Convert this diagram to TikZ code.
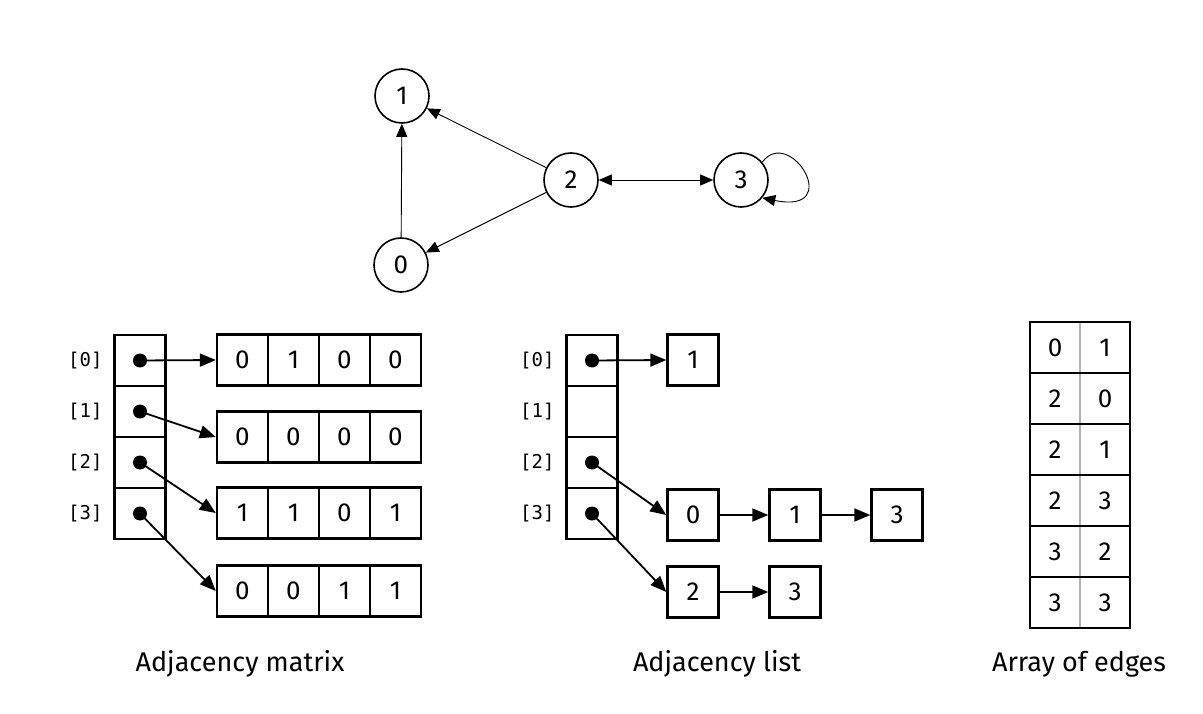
\documentclass[tikz,border=0pt]{standalone}
\usepackage{fontspec}
\setmainfont{Fira Sans}
\newfontfamily\monof{DejaVu Sans Mono}
\usetikzlibrary{arrows.meta}
\begin{document}
\begin{tikzpicture}[x=1pt,y=-1pt,
  vtx/.style={circle,draw,line width=1.6pt,minimum size=54pt,inner sep=0pt,font=\fontsize{26}{26}\selectfont},
  gedge/.style={line width=0.9pt,-{Triangle[length=13pt,width=11pt]}},
  cell/.style={draw,line width=2.4pt,minimum width=51pt,minimum height=51pt,inner sep=0pt,font=\fontsize{26}{26}\selectfont},
  ecell/.style={minimum width=50pt,minimum height=51pt,inner sep=0pt,font=\fontsize{26}{26}\selectfont},
  idx/.style={font=\monof\fontsize{19}{19}\selectfont},
  dot/.style={circle,fill,inner sep=0pt,minimum size=14pt},
  ptr/.style={line width=1.8pt,-{Triangle[length=16pt,width=13pt]}},
  captxt/.style={font=\fontsize{27}{27}\selectfont}]
\useasboundingbox (0,0) rectangle (1203,714);
% graph
\node[vtx] (n1) at (402,96) {1};
\node[vtx] (n2) at (571,180) {2};
\node[vtx] (n3) at (741,180) {3};
\node[vtx] (n0) at (401,265) {0};
\draw[gedge] (n0) -- (n1);
\draw[gedge] (n2) -- (n1);
\draw[gedge] (n2) -- (n0);
\draw[line width=0.9pt,{Triangle[length=13pt,width=11pt]}-{Triangle[length=13pt,width=11pt]}] (n2) -- (n3);
\draw[gedge] (n3.40) .. controls (790,125) and (845,215) .. (n3.-40);
% adjacency matrix
\foreach \r in {0,1,2,3}{
  \node[cell] (m\r) at (140,{360.5+51*\r}) {};
  \node[idx,anchor=east] at (106,{360.5+51*\r}) {[\r]};
  \node[dot] (md\r) at (140,{360.5+51*\r}) {};
}
\foreach \r/\y/\a/\b/\c/\d in {0/360/0/1/0/0,1/437/0/0/0/0,2/513/1/1/0/1,3/591/0/0/1/1}{
  \node[cell] (a\r0) at (242.5,\y) {\a};
  \node[cell] (a\r1) at (293.5,\y) {\b};
  \node[cell] (a\r2) at (344.5,\y) {\c};
  \node[cell] (a\r3) at (395.5,\y) {\d};
  \draw[ptr] (md\r.center) -- (a\r0.west);
}
% adjacency list
\foreach \r in {0,1,2,3}{
  \node[cell] (l\r) at (592,{360.5+51*\r}) {};
  \node[idx,anchor=east] at (558,{360.5+51*\r}) {[\r]};
}
\node[dot] (ld0) at (592,360.5) {};
\node[dot] (ld2) at (592,462.5) {};
\node[dot] (ld3) at (592,513.5) {};
\node[cell] (b01) at (693,360) {1};
\node[cell] (b20) at (693,515) {0};
\node[cell] (b21) at (795,515) {1};
\node[cell] (b23) at (897,515) {3};
\node[cell] (b32) at (693,592) {2};
\node[cell] (b33) at (795,592) {3};
\draw[ptr] (ld0.center) -- (b01.west);
\draw[ptr] (ld2.center) -- (b20.west);
\draw[ptr] (ld3.center) -- (b32.west);
\draw[ptr] (b20) -- (b21);
\draw[ptr] (b21) -- (b23);
\draw[ptr] (b32) -- (b33);
% array of edges
\draw[gray!60,line width=1.2pt] (1080,322) -- (1080,628);
\foreach \r/\u/\v in {0/0/1,1/2/0,2/2/1,3/2/3,4/3/2,5/3/3}{
  \node[ecell] (e\r a) at (1055,{347.5+51*\r}) {\u};
  \node[ecell] (e\r b) at (1105,{347.5+51*\r}) {\v};
  \ifnum\r>0 \draw[line width=2pt] (1030,{322+51*\r}) -- (1130,{322+51*\r});\fi
}
\draw[line width=2.4pt] (1030,322) rectangle (1130,628);
% captions
\node[captxt] (c1) at (240,664) {Adjacency matrix};
\node[captxt] (c2) at (717,664) {Adjacency list};
\node[captxt] (c3) at (1079,664) {Array of edges};
\end{tikzpicture}
\end{document}
